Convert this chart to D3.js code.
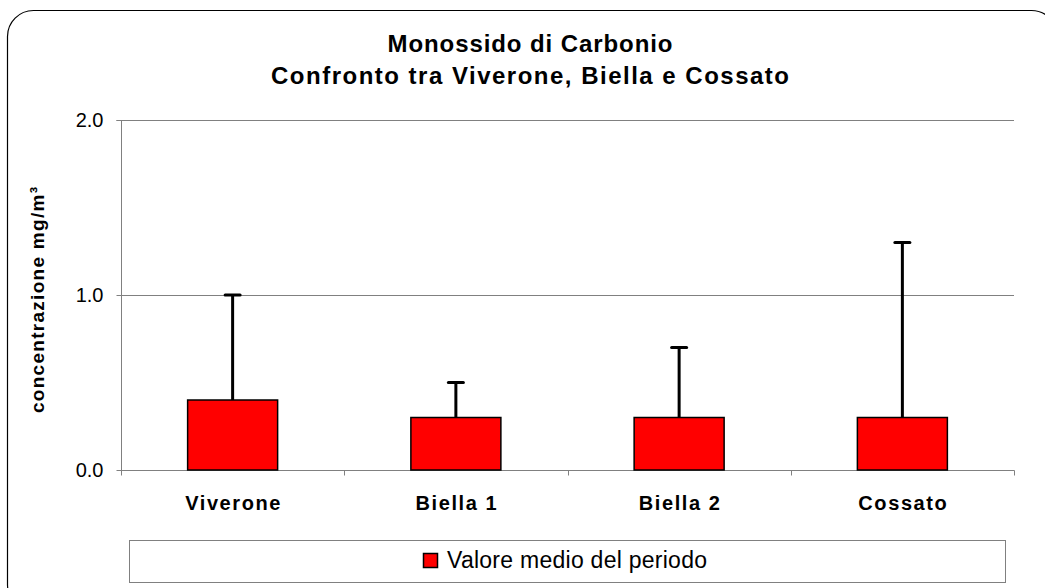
<!DOCTYPE html>
<html><head><meta charset="utf-8">
<script src="https://cdn.jsdelivr.net/npm/d3@7"></script>
<style>body{margin:0;background:#fff}svg{display:block;font-family:"Liberation Sans",Arial,sans-serif}</style>
</head><body>
<script>
const categories = ["Viverone","Biella 1","Biella 2","Cossato"];
const meanValues = [0.4,0.3,0.3,0.3];
const maxValues = [1.0,0.5,0.7,1.3];
const yTicks = [0.0,1.0,2.0];
const seriesName = "Valore medio del periodo";
const titleLines = ["Monossido di Carbonio","Confronto tra Viverone, Biella e Cossato"];
const yLabel = "concentrazione mg/m³";

const W=1045,H=588;
const svg=d3.select("body").append("svg").attr("width",W).attr("height",H);
svg.append("rect").attr("x",7.5).attr("y",10.5).attr("width",1050).attr("height",600)
  .attr("rx",26).attr("fill","#fff").attr("stroke","#000").attr("stroke-width",1.2);

const pLeft=121,pRight=1014,pTop=120,pBottom=470;
const xb=d3.scaleBand().domain(categories).range([pLeft,pRight]);
const y=d3.scaleLinear().domain([0,2]).range([pBottom,pTop]);

// gridlines
svg.append("g").selectAll("line").data(yTicks.filter(d=>d>0)).join("line")
  .attr("x1",pLeft).attr("x2",pRight).attr("y1",d=>y(d)+0.5).attr("y2",d=>y(d)+0.5)
  .attr("stroke","#808080").attr("stroke-width",1);

// y axis
const ya=svg.append("g").attr("transform",`translate(${pLeft+0.5},0)`)
  .call(d3.axisLeft(y).tickValues(yTicks).tickFormat(d3.format(".1f")).tickSize(5).tickPadding(13));
ya.select(".domain").attr("stroke","#808080").attr("d",`M-5,${y(2)+0.5}H0V${pBottom+0.5}`);
ya.selectAll(".tick line").attr("stroke","#808080");
ya.selectAll(".tick").attr("transform",d=>`translate(0,${y(d)+0.5})`);
ya.selectAll("text").attr("font-size",20).attr("fill","#000").attr("font-family","Liberation Sans, Arial, sans-serif");

// x axis
const xa=svg.append("g").attr("transform",`translate(0,${pBottom+0.5})`);
xa.append("line").attr("x1",pLeft).attr("x2",pRight+0.5).attr("stroke","#808080");
xa.selectAll("line.t").data(categories.concat(["end"])).join("line").attr("class","t")
  .attr("x1",(d,i)=>Math.round(pLeft+i*xb.step())+0.5).attr("x2",(d,i)=>Math.round(pLeft+i*xb.step())+0.5)
  .attr("y1",0).attr("y2",5).attr("stroke","#808080");
xa.selectAll("text").data(categories).join("text")
  .attr("x",d=>xb(d)+xb.bandwidth()/2+1).attr("y",39).attr("text-anchor","middle")
  .attr("font-size",20).attr("font-weight","bold").attr("letter-spacing",1.6).text(d=>d);

// error bars
const eb=svg.append("g");
categories.forEach((c,i)=>{
  const cx=xb(c)+xb.bandwidth()/2;
  eb.append("line").attr("x1",cx).attr("x2",cx).attr("y1",y(meanValues[i])).attr("y2",y(maxValues[i]))
    .attr("stroke","#000").attr("stroke-width",3);
  eb.append("line").attr("x1",cx-7.5).attr("x2",cx+7.5).attr("y1",y(maxValues[i])).attr("y2",y(maxValues[i]))
    .attr("stroke","#000").attr("stroke-width",3).attr("stroke-linecap","round");
});

// bars
const bw=90;
svg.append("g").selectAll("rect").data(categories).join("rect")
  .attr("x",d=>xb(d)+xb.bandwidth()/2-bw/2).attr("width",bw)
  .attr("y",(d,i)=>y(meanValues[i])).attr("height",(d,i)=>y(0)-y(meanValues[i]))
  .attr("fill","#ff0000").attr("stroke","#000").attr("stroke-width",1.5);

// title
const tLens=[285,518];
svg.append("g").selectAll("text").data(titleLines).join("text")
  .attr("x",(d,i)=>530-tLens[i]/2).attr("y",(d,i)=>52+i*32)
  .attr("textLength",(d,i)=>tLens[i]).attr("lengthAdjust","spacing")
  .attr("font-size",24).attr("font-weight","bold").text(d=>d);

// y label
svg.append("text").attr("transform",`translate(44,413) rotate(-90)`)
  .attr("textLength",226).attr("lengthAdjust","spacing")
  .attr("font-size",19).attr("font-weight","bold").text(yLabel);

// legend
svg.append("rect").attr("x",129.5).attr("y",540.5).attr("width",876).attr("height",42)
  .attr("fill","#fff").attr("stroke","#808080").attr("stroke-width",1);
svg.append("rect").attr("x",423.5).attr("y",553.5).attr("width",14).attr("height",14)
  .attr("fill","#ff0000").attr("stroke","#000").attr("stroke-width",1.5);
svg.append("text").attr("x",447).attr("y",568).attr("font-size",23)
  .attr("textLength",260).attr("lengthAdjust","spacing").text(seriesName);
</script>
</body></html>
